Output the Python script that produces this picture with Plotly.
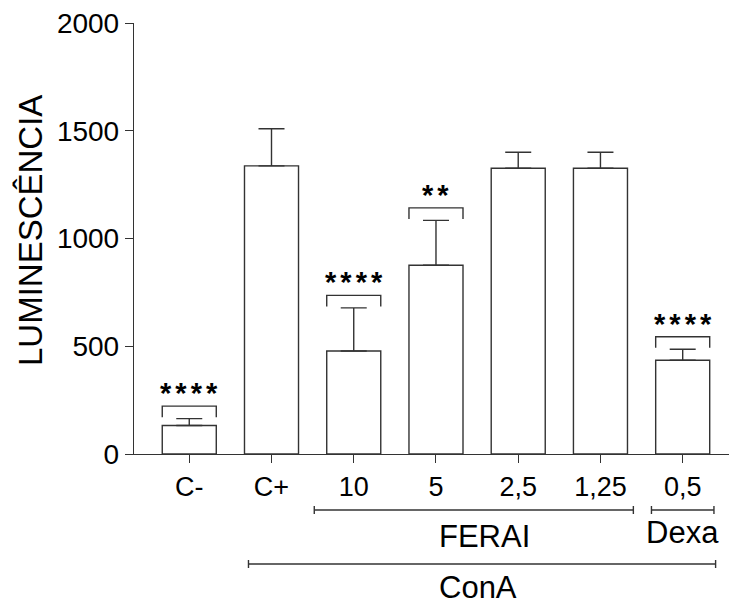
import plotly.graph_objects as go

# ---- data ----
categories = ["C-", "C+", "10", "5", "2,5", "1,25", "0,5"]
means = [132, 1337, 478, 876, 1326, 1326, 435]
err_plus = [32, 172, 200, 208, 74, 74, 51]
significance = ["****", "", "****", "**", "", "", "****"]

group_names = ["FERAI", "Dexa", "ConA"]
group_first = [2, 6, 1]
group_last = [5, 6, 6]

y_ticks = [0, 500, 1000, 1500, 2000]

# ---- style / layout ----
W, H = 729, 606
ML, MR, MT, MB = 134, 0, 23, 152
plot_h = H - MT - MB
line_col = "#333333"
font_fam = "Liberation Sans, Arial, Helvetica, sans-serif"
x_range = [-0.672, 6.563]
y_range = [0, 2000]
unit_per_px = (y_range[1] - y_range[0]) / plot_h

def paper_y(py):
    return (H - MB - py) / plot_h

xs = list(range(len(categories)))

fig = go.Figure()
fig.add_trace(go.Bar(
    x=xs, y=means, width=0.657,
    marker=dict(color="white", line=dict(color=line_col, width=1.4)),
    error_y=dict(type="data", array=err_plus, arrayminus=[0] * len(means),
                 symmetric=False, color=line_col, thickness=1.4, width=13),
    showlegend=False, hoverinfo="skip",
))

shapes = []
annotations = []
half = 0.657 / 2
gap = "<span style='font-size:20px'>\u2009</span>"
for i, s in enumerate(significance):
    if not s:
        continue
    top = means[i] + err_plus[i]
    y_b = top + 12.5 * unit_per_px
    y_l = top + 1.5 * unit_per_px
    shapes.append(dict(type="path", xref="x", yref="y",
                       path=f"M {i-half},{y_l} L {i-half},{y_b} L {i+half},{y_b} L {i+half},{y_l}",
                       line=dict(color=line_col, width=1.4)))
    stars = gap.join(list(s))
    annotations.append(dict(x=i, y=y_b, xref="x", yref="y", text=f"<b>{stars}</b>", showarrow=False,
                            xanchor="center", yanchor="bottom", yshift=-5,
                            font=dict(family=font_fam, size=29, color="black")))

# group brackets under the axis
group_pad_left = [0.48, 0.38, 0.28]
group_pad_right = [0.40, 0.38, 0.40]
group_line_py = [510, 510, 564]
group_label_py = [536, 532, 587]
group_label_dx = [0.13, 0.0, -0.05]
for g, name in enumerate(group_names):
    x0 = group_first[g] - group_pad_left[g]
    x1 = group_last[g] + group_pad_right[g]
    yl = paper_y(group_line_py[g])
    y0c = paper_y(group_line_py[g] - 4)
    y1c = paper_y(group_line_py[g] + 4)
    shapes.append(dict(type="line", xref="x", yref="paper", x0=x0, x1=x1, y0=yl, y1=yl,
                       line=dict(color=line_col, width=1.4)))
    for xc in (x0, x1):
        shapes.append(dict(type="line", xref="x", yref="paper", x0=xc, x1=xc, y0=y0c, y1=y1c,
                           line=dict(color=line_col, width=1.4)))
    annotations.append(dict(x=(x0 + x1) / 2 + group_label_dx[g], y=paper_y(group_label_py[g]),
                            xref="x", yref="paper", text=name, showarrow=False,
                            xanchor="center", yanchor="middle",
                            font=dict(family=font_fam, size=31, color="black")))

# y-axis title
annotations.append(dict(x=0, y=paper_y(231), xref="paper", yref="paper", xshift=-104,
                        text="LUMINESCÊNCIA", textangle=-90, showarrow=False,
                        xanchor="center", yanchor="middle",
                        font=dict(family=font_fam, size=33, color="black")))

fig.update_layout(
    width=W, height=H,
    margin=dict(l=ML, r=MR, t=MT, b=MB),
    paper_bgcolor="white", plot_bgcolor="white",
    shapes=shapes, annotations=annotations,
    font=dict(family=font_fam, color="black"),
)
fig.update_xaxes(range=x_range, tickvals=xs, ticktext=categories,
                 showgrid=False, zeroline=False, showline=True, linecolor=line_col, linewidth=1.4,
                 ticks="outside", ticklen=8, tickwidth=1.4, tickcolor=line_col,
                 tickfont=dict(size=27, family=font_fam, color="black"))
fig.update_yaxes(range=y_range, tickvals=y_ticks, ticktext=[str(v) for v in y_ticks],
                 showgrid=False, zeroline=False, showline=True, linecolor=line_col, linewidth=1.4,
                 ticks="outside", ticklen=8, tickwidth=1.4, tickcolor=line_col,
                 tickfont=dict(size=28, family=font_fam, color="black"))

fig.write_html("out.html", config={"displayModeBar": False},
               post_script="document.body.style.margin='0';document.body.style.overflow='hidden';")
